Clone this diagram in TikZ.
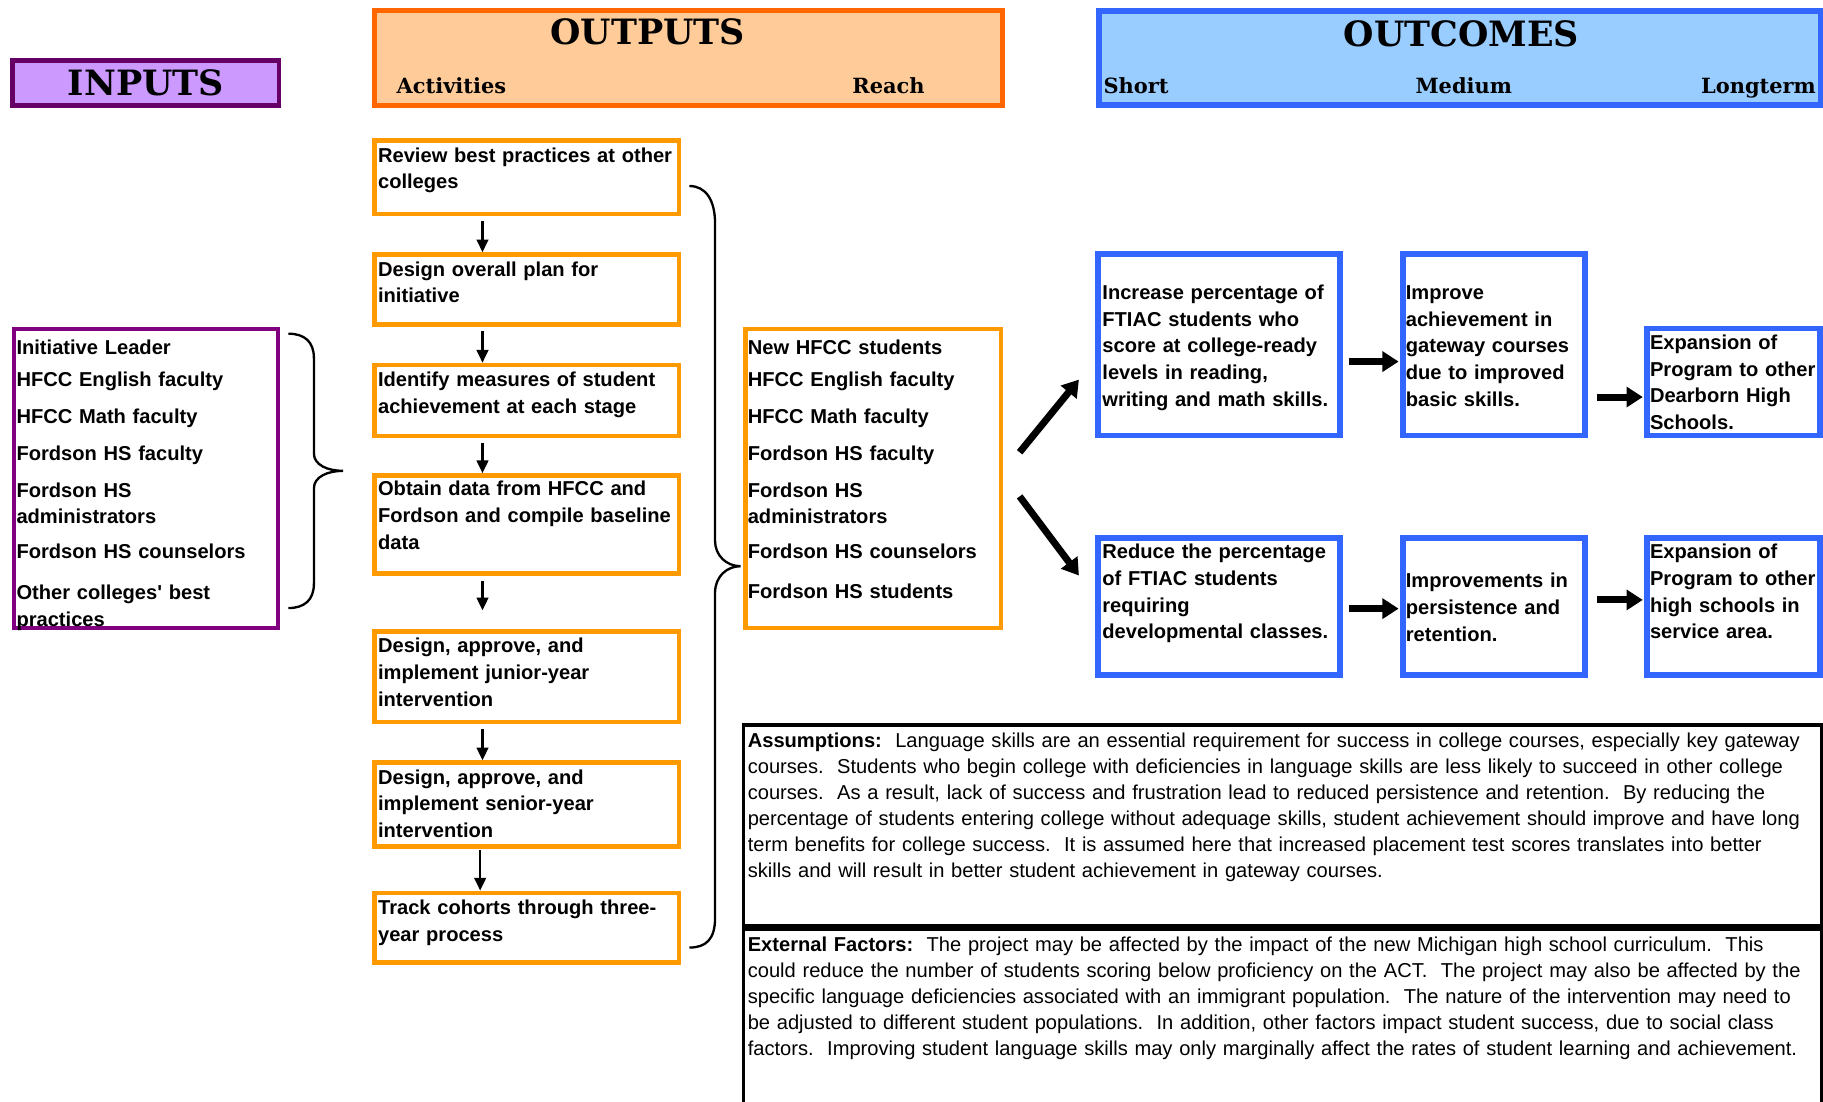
\documentclass[tikz,border=0pt]{standalone}
\usepackage{fontspec}
\setmainfont{Liberation Sans}
\newfontfamily\hdrfont{DejaVu Serif}
\usetikzlibrary{arrows.meta}
\definecolor{inpfill}{HTML}{CC99FF}
\definecolor{inpdraw}{HTML}{660066}
\definecolor{inplist}{HTML}{800080}
\definecolor{outfill}{HTML}{FFCC99}
\definecolor{outdraw}{HTML}{FF6600}
\definecolor{actdraw}{HTML}{FF9900}
\definecolor{ocfill}{HTML}{99CCFF}
\definecolor{ocdraw}{HTML}{3366FF}
\begin{document}
\begin{tikzpicture}[x=1pt,y=-1pt,
  box/.style={rectangle, inner sep=0pt, outer sep=0pt},
  hdrbox/.style={box, line width=4pt},
  actbox/.style={box, draw=actdraw, line width=4pt, fill=white},
  ocbox/.style={box, draw=ocdraw, line width=5pt, fill=white},
  notebox/.style={box, draw=black, line width=3pt, fill=white},
  txt/.style={anchor=base west, inner sep=0pt, yshift=-2pt, align=left, font=\fontsize{17.3}{23}\selectfont\bfseries},
  note/.style={anchor=base west, inner sep=0pt, yshift=-2pt, align=left, text width=922pt, font=\fontsize{17.3}{22.4}\selectfont},
  hdr/.style={inner sep=0pt, font=\hdrfont\bfseries\fontsize{30}{36}\selectfont},
  sub/.style={inner sep=0pt, anchor=base west, font=\hdrfont\bfseries\fontsize{18}{22}\selectfont},
  thinarr/.style={line width=2pt, -{Triangle[length=11pt,width=10pt]}},
  bigarr/.style={line width=6pt, -{Triangle[length=14pt,width=17pt]}},
  bracepath/.style={line width=2pt}
]
\useasboundingbox (0,0) rectangle (1568,947);

% ---------- headers
\node[hdrbox, draw=inpdraw, fill=inpfill, minimum width=229pt, minimum height=39pt,
      font=\hdrfont\bfseries\fontsize{30}{36}\selectfont] (inputs) at (125.5,71.5) {INPUTS};
\node[hdrbox, draw=outdraw, fill=outfill, minimum width=540pt, minimum height=82pt] (outputs) at (592,50) {};
\node[hdr] (outputsT) at (557,27) {OUTPUTS};
\node[sub] (actT) at (341,80.5) {Activities};
\node[sub] (reachT) at (733,80.5) {Reach};
\node[hdrbox, draw=ocdraw, line width=5pt, fill=ocfill, minimum width=621pt, minimum height=81pt] (outcomes) at (1255.5,50) {};
\node[hdr] (outcomesT) at (1257,29) {OUTCOMES};
\node[sub] (shortT) at (949,80.5) {Short};
\node[sub, anchor=base] (mediumT) at (1259,80.5) {Medium};
\node[sub, anchor=base east] (longT) at (1562,80.5) {Longterm};

% ---------- inputs list
\node[box, draw=inplist, line width=4pt, fill=white, minimum width=227pt, minimum height=257pt] (inlist) at (125.5,411.5) {};
\node[txt, text width=225pt] (inlistT) at (14,302.5) {Initiative Leader\\[5pt]HFCC English faculty\\[9pt]HFCC Math faculty\\[9pt]Fordson HS faculty\\[8pt]Fordson HS\\administrators\\[7pt]Fordson HS counselors\\[12pt]Other colleges\textquotesingle{} best\\practices};

% ---------- activities
\node[actbox, minimum width=262pt, minimum height=63pt] (a1) at (453,152.5) {};
\node[actbox, minimum width=262pt, minimum height=60pt] (a2) at (453,249) {};
\node[actbox, minimum width=262pt, minimum height=61pt] (a3) at (453,344.5) {};
\node[actbox, minimum width=262pt, minimum height=84pt] (a4) at (453,451) {};
\node[actbox, minimum width=262pt, minimum height=78pt] (a5) at (453,582) {};
\node[actbox, minimum width=262pt, minimum height=72pt] (a6) at (453,692) {};
\node[actbox, minimum width=262pt, minimum height=60pt] (a7) at (453,798) {};
\node[txt, text width=258pt] (a1T) at (325,137.5) {Review best practices at other\\colleges};
\node[txt, text width=258pt] (a2T) at (325,235.5) {Design overall plan for\\initiative};
\node[txt, text width=258pt] (a3T) at (325,330.5) {Identify measures of student\\achievement at each stage};
\node[txt, text width=258pt] (a4T) at (325,424.5) {Obtain data from HFCC and\\Fordson and compile baseline\\data};
\node[txt, text width=258pt] (a5T) at (325,559.5) {Design, approve, and\\implement junior-year\\intervention};
\node[txt, text width=258pt] (a6T) at (325,672.5) {Design, approve, and\\implement senior-year\\intervention};
\node[txt, text width=258pt] (a7T) at (325,784.5) {Track cohorts through three-\\year process};

\coordinate (ax) at (415,0);
\coordinate (bx) at (413,0);
\draw[thinarr, shorten <=6pt, shorten >=2pt] (a1.south -| ax) -- (a2.north -| ax);
\draw[thinarr, shorten <=6pt, shorten >=2pt] (a2.south -| ax) -- (a3.north -| ax);
\draw[thinarr, shorten <=6pt, shorten >=2pt] (a3.south -| ax) -- (a4.north -| ax);
\draw[thinarr, shorten <=7pt, shorten >=18pt] (a4.south -| ax) -- (a5.north -| ax);
\draw[thinarr, shorten <=6pt, shorten >=2pt] (a5.south -| ax) -- (a6.north -| ax);
\draw[thinarr, shorten <=3pt, shorten >=2pt] (a6.south -| bx) -- (a7.north -| bx);

% ---------- reach
\node[box, draw=actdraw, line width=4pt, fill=white, minimum width=220pt, minimum height=257pt] (reach) at (751,411.5) {};
\node[txt, text width=218pt] (reachT2) at (643,302.5) {New HFCC students\\[5pt]HFCC English faculty\\[9pt]HFCC Math faculty\\[9pt]Fordson HS faculty\\[8pt]Fordson HS\\administrators\\[7pt]Fordson HS counselors\\[11pt]Fordson HS students};

% ---------- braces
\draw[bracepath] (248,287) .. controls (262,287) and (270,294) .. (270,308) -- (270,390)
  .. controls (270,400) and (282,405) .. (295,405)
  .. controls (282,405) and (270,410) .. (270,420) -- (270,502)
  .. controls (270,516) and (262,523) .. (248,523);
\draw[bracepath] (593,160) .. controls (607,160) and (615,172) .. (615,192) -- (615,465)
  .. controls (615,478) and (625,487) .. (637,487)
  .. controls (625,487) and (615,496) .. (615,510) -- (615,790)
  .. controls (615,808) and (607,815) .. (593,815);

% ---------- outcomes
\node[ocbox, minimum width=208pt, minimum height=156pt] (s1) at (1048.5,296.5) {};
\node[ocbox, minimum width=157pt, minimum height=156pt] (m1) at (1285,296.5) {};
\node[ocbox, minimum width=149pt, minimum height=92pt] (l1) at (1491,328.5) {};
\node[ocbox, minimum width=208pt, minimum height=118pt] (s2) at (1048.5,521.5) {};
\node[ocbox, minimum width=157pt, minimum height=118pt] (m2) at (1285,521.5) {};
\node[ocbox, minimum width=149pt, minimum height=118pt] (l2) at (1491,521.5) {};
\node[txt, text width=205pt] (s1T) at (948,255.5) {Increase percentage of\\FTIAC students who\\score at college-ready\\levels in reading,\\writing and math skills.};
\node[txt, text width=155pt] (m1T) at (1209,255.5) {Improve\\achievement in\\gateway courses\\due to improved\\basic skills.};
\node[txt, text width=147pt] (l1T) at (1419,298.5) {Expansion of\\Program to other\\Dearborn High\\Schools.};
\node[txt, text width=205pt] (s2T) at (948,478.5) {Reduce the percentage\\of FTIAC students\\requiring\\developmental classes.};
\node[txt, text width=155pt] (m2T) at (1209,503.5) {Improvements in\\persistence and\\retention.};
\node[txt, text width=147pt] (l2T) at (1419,478.5) {Expansion of\\Program to other\\high schools in\\service area.};

\draw[bigarr] ([xshift=16pt,yshift=22.5pt]reach.east) -- ([xshift=-16.5pt,yshift=-30pt]s1.west);
\draw[bigarr] ([xshift=16pt,yshift=-15.5pt]reach.east) -- ([xshift=-16.5pt,yshift=26.5pt]s2.west);
\draw[bigarr] ([xshift=7.5pt]s1.east |- 0,311) -- ([xshift=-3.5pt]m1.west |- 0,311);
\draw[bigarr] ([xshift=10pt]m1.east |- 0,341.5) -- ([xshift=-3.5pt]l1.west |- 0,341.5);
\draw[bigarr] ([xshift=7.5pt]s2.east |- 0,523.5) -- ([xshift=-3.5pt]m2.west |- 0,523.5);
\draw[bigarr] ([xshift=10pt]m2.east |- 0,516) -- ([xshift=-3.5pt]l2.west |- 0,516);

% ---------- assumptions / external factors
\node[notebox, minimum width=927pt, minimum height=173pt] (assump) at (1103,710) {};
\node[notebox, minimum width=927pt, minimum height=170pt] (extf) at (1103,884) {};
\node[note] (assumpT) at (643,641) {\textbf{Assumptions:}\ \ Language skills are an essential requirement for success in college courses, especially key gateway\\
courses.\ \ Students who begin college with deficiencies in language skills are less likely to succeed in other college\\
courses.\ \ As a result, lack of success and frustration lead to reduced persistence and retention.\ \ By reducing the\\
percentage of students entering college without adequage skills, student achievement should improve and have long\\
term benefits for college success.\ \ It is assumed here that increased placement test scores translates into better\\
skills and will result in better student achievement in gateway courses.};
\node[note] (extfT) at (643,816) {\textbf{External Factors:}\ \ The project may be affected by the impact of the new Michigan high school curriculum.\ \ This\\
could reduce the number of students scoring below proficiency on the ACT.\ \ The project may also be affected by the\\
specific language deficiencies associated with an immigrant population.\ \ The nature of the intervention may need to\\
be adjusted to different student populations.\ \ In addition, other factors impact student success, due to social class\\
factors.\ \ Improving student language skills may only marginally affect the rates of student learning and achievement.};
\end{tikzpicture}
\end{document}
